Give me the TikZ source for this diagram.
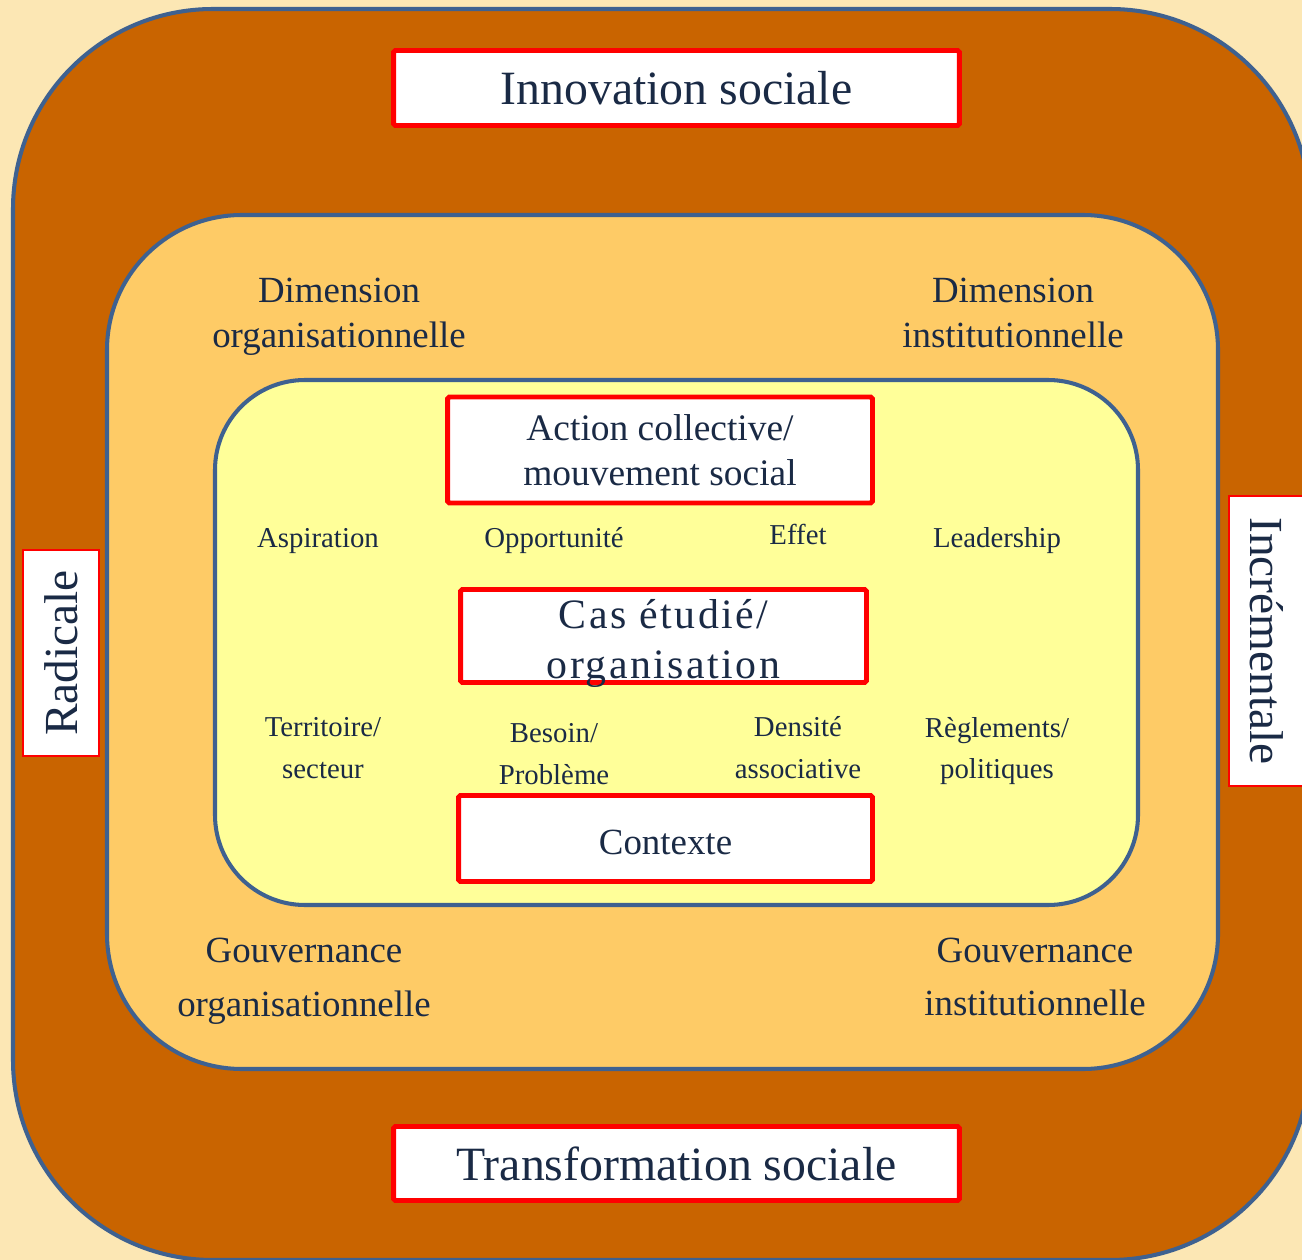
\documentclass[tikz,border=0pt]{standalone}
\usepackage{fontspec}
\setmainfont{Liberation Serif}
\newfontfamily\spacedfont[LetterSpace=6]{Liberation Serif}

\definecolor{bgbeige}{HTML}{FCE7B4}
\definecolor{caramel}{HTML}{C96400}
\definecolor{apricot}{HTML}{FECB66}
\definecolor{paleyellow}{HTML}{FFFF99}
\definecolor{ringblue}{HTML}{3E6190}
\definecolor{inknavy}{HTML}{1A2A45}

\tikzset{
  ring/.style={draw=ringblue, line width=2.3pt},
  redbox/.style={draw=red, line width=2.8pt, fill=white, inner sep=0pt,
    rounded corners=1pt, text=inknavy, align=center},
  sidebox/.style={draw=red, line width=1pt, fill=white, inner sep=0pt,
    text=inknavy, font=\fontsize{27}{32}\selectfont},
  dimlabel/.style={text=inknavy, align=center, font=\fontsize{21}{25.5}\selectfont},
  govlabel/.style={text=inknavy, align=center, font=\fontsize{21}{30.6}\selectfont},
  factor/.style={text=inknavy, align=center, font=\fontsize{16.4}{23.8}\selectfont},
}

\begin{document}
\begin{tikzpicture}[x=0.02cm, y=-0.02cm]
        \useasboundingbox (0,0) rectangle (1302,1260);
        \clip (0,0) rectangle (1302,1260);
        \fill[bgbeige] (0,0) rectangle (1302,1260);
        % the three rings
        \draw[ring, fill=caramel, rounded corners=4cm] (13,9) rectangle (1310,1260);
        \draw[ring, fill=apricot, rounded corners=2.7cm] (107,215) rectangle (1218,1069);
        \draw[ring, fill=paleyellow, rounded corners=1.8cm] (215,380) rectangle (1138,905);
        % outer ring
        \node[redbox, minimum width=11.32cm, minimum height=1.5cm,
          font=\fontsize{27.2}{32}\selectfont] (innov) at (676.5,88) {Innovation sociale};
        \node[redbox, minimum width=11.32cm, minimum height=1.48cm,
          font=\fontsize{27.2}{32}\selectfont] (transf) at (676.5,1163.5) {Transformation sociale};
        \node[sidebox, rotate=90, minimum width=4.12cm, minimum height=1.52cm] (radic) at (61,653) {Radicale};
        \node[sidebox, rotate=-90, minimum width=5.8cm, minimum height=1.5cm] (incr) at (1266.5,641) {Incrémentale};
        % middle ring
        \node[dimlabel] (dimorg) at (339,317) {Dimension\\organisationnelle};
        \node[dimlabel] (diminst) at (1013,313) {Dimension\\institutionnelle};
        \node[govlabel] (govorg) at (304,981) {Gouvernance\\organisationnelle};
        \node[govlabel] (govinst) at (1035,977) {Gouvernance\\institutionnelle};
        % inner ring
        \node[redbox, minimum width=8.5cm, minimum height=2.12cm,
          font=\fontsize{21.3}{25.5}\selectfont] (action) at (660,450) {Action collective/\\mouvement social};
        \node[redbox, minimum width=8.12cm, minimum height=1.86cm] (cas) at (663.5,636) {};
        \node[text=inknavy, align=center, font=\spacedfont\fontsize{23.8}{28.3}\selectfont]
          (castext) at ([yshift=-0.15cm]cas.center) {Cas étudié/\\organisation};
        \node[redbox, minimum width=8.28cm, minimum height=1.72cm, text height=18.6pt, text depth=0pt,
          font=\fontsize{21}{25}\selectfont] (contexte) at (665.5,838.5) {Contexte};
        \node[factor] (aspir) at (318,541) {Aspiration};
        \node[factor] (opport) at (554,541) {Opportunité};
        \node[factor] (effet) at (798,534) {Effet};
        \node[factor] (leader) at (997,541) {Leadership};
        \node[factor] (territ) at (323,748) {Territoire/\\secteur};
        \node[factor] (besoin) at (554,754) {Besoin/\\Problème};
        \node[factor] (densite) at (798,748) {Densité\\associative};
        \node[factor] (regle) at (997,751) {Règlements/\\politiques};
    \end{tikzpicture}
\end{document}
